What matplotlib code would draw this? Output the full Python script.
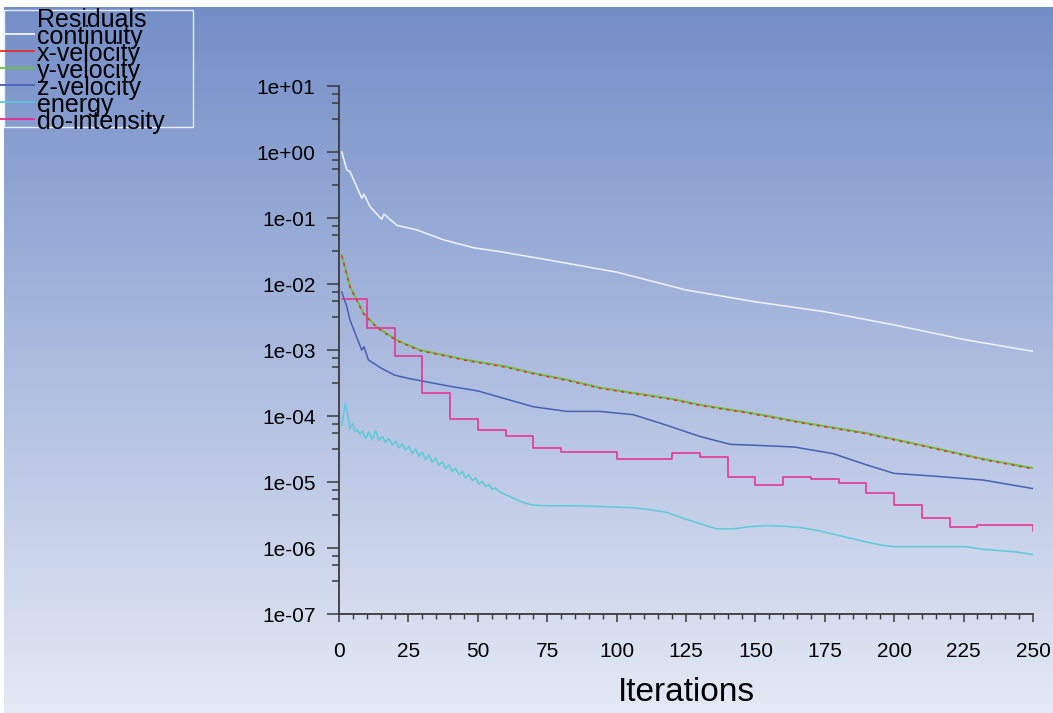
import matplotlib.pyplot as plt
from matplotlib.lines import Line2D
from matplotlib.ticker import LogLocator, NullFormatter
import numpy as np

plt.rcParams['font.family'] = ['Liberation Sans', 'DejaVu Sans']

# residual histories, stored as log10 exponents
cont_it = [1, 2.8, 4, 5.8, 8.2, 9, 11.2, 15.4, 16.2, 20.8, 28, 37.6, 48.4, 58, 76,
           100, 125, 150, 175, 200, 225, 250]
cont_exp = [0.0, -0.27, -0.30, -0.47, -0.70, -0.64, -0.83, -1.02, -0.94, -1.11, -1.18,
            -1.33, -1.45, -1.51, -1.64, -1.82, -2.09, -2.27, -2.42, -2.62, -2.84, -3.02]

yvel_it = [1, 4, 8.8, 13.6, 20.8, 29.2, 46, 60, 70, 82, 94, 106, 120, 130, 148, 166,
           190, 214, 232, 250]
yvel_exp = [-1.56, -2.04, -2.44, -2.65, -2.85, -3.0, -3.15, -3.25, -3.35, -3.45, -3.57,
            -3.65, -3.74, -3.83, -3.95, -4.09, -4.26, -4.48, -4.65, -4.79]
xvel_exp = [-1.57, -2.05, -2.45, -2.66, -2.86, -3.01, -3.16, -3.26, -3.36, -3.46, -3.58,
            -3.66, -3.75, -3.84, -3.96, -4.10, -4.27, -4.49, -4.66, -4.80]

zvel_it = [1, 2.8, 4, 6.3, 8.2, 9, 10.6, 15, 20, 25, 30, 40, 50, 60, 70, 82, 94, 106,
           118, 130, 141, 148, 164, 178, 190, 200, 214, 232, 250]
zvel_exp = [-2.12, -2.34, -2.55, -2.80, -3.0, -2.95, -3.15, -3.27, -3.38, -3.43, -3.47,
            -3.55, -3.62, -3.74, -3.86, -3.93, -3.93, -3.98, -4.14, -4.31, -4.43, -4.44,
            -4.47, -4.57, -4.74, -4.87, -4.91, -4.97, -5.10]

energy_it = [1, 2.3, 3.1, 3.9, 4.9, 5.8, 6.6, 7.6, 8.4, 9.6, 10.8, 12.0, 13.2, 14.4,
             15.6, 16.8, 18.0, 19.2, 20.4, 21.6, 22.8, 24.0, 25.2, 26.4, 27.6, 28.8,
             30.0, 31.2, 32.4, 33.6, 34.8, 36.0, 37.2, 38.4, 39.6, 40.8, 42.0, 43.2,
             44.4, 45.6, 46.8, 48.0, 49.2, 50.4, 51.6, 52.8, 54.0, 55.2, 56.4, 57.6,
             60, 64, 67, 70, 75, 82, 94, 106, 112, 118, 124, 130, 136, 142, 147, 154,
             160, 166, 172, 178, 184, 190, 196, 200, 214, 226, 232, 244, 250]
energy_exp = [-4.14, -3.81, -3.98, -4.19, -4.11, -4.24, -4.21, -4.28, -4.23, -4.34,
              -4.24, -4.36, -4.22, -4.37, -4.31, -4.40, -4.34, -4.44, -4.38, -4.48,
              -4.42, -4.52, -4.46, -4.57, -4.50, -4.61, -4.55, -4.66, -4.59, -4.70,
              -4.64, -4.75, -4.69, -4.80, -4.74, -4.84, -4.79, -4.89, -4.84, -4.94,
              -4.89, -4.98, -4.94, -5.03, -4.99, -5.07, -5.04, -5.11, -5.09, -5.14,
              -5.19, -5.27, -5.32, -5.35, -5.36, -5.36, -5.37, -5.39, -5.42, -5.46,
              -5.55, -5.63, -5.71, -5.71, -5.68, -5.66, -5.67, -5.69, -5.73, -5.79,
              -5.85, -5.91, -5.96, -5.98, -5.98, -5.98, -6.02, -6.06, -6.10]

# do-intensity is only updated every 10 iterations -> step levels
do_it = [1, 10, 20, 30, 40, 50, 60, 70, 80, 100, 120, 130, 140, 150, 160, 170, 180,
         190, 200, 210, 220, 230, 249, 250]
do_exp = [-2.23, -2.66, -3.09, -3.65, -4.04, -4.21, -4.30, -4.49, -4.54, -4.65, -4.56,
          -4.62, -4.93, -5.04, -4.93, -4.95, -5.02, -5.16, -5.35, -5.54, -5.68, -5.65,
          -5.65, -5.74]

names = ["continuity", "x-velocity", "y-velocity", "z-velocity", "energy", "do-intensity"]
colors = ["#f2f4fa", "#e0302c", "#6cc040", "#4462b4", "#5ccad8", "#ea2a8e"]

W, H = 1053, 713
fig = plt.figure(figsize=(W / 100, H / 100), dpi=100)
fig.patch.set_facecolor("white")

# gradient background
bg = fig.add_axes([4 / W, 0, 1 - 4 / W, 706 / H])
top = np.array([116, 142, 200]) / 255
bot = np.array([228, 233, 245]) / 255
t = np.linspace(0, 1, 256)[:, None]
grad = top[None, :] * (1 - t) + bot[None, :] * t
bg.imshow(grad[:, None, :], aspect="auto", extent=[0, 1, 0, 1])
bg.set_axis_off()

ax = fig.add_axes([339 / W, 1 - 614 / H, (1033 - 339) / W, (614 - 86) / H])
ax.set_facecolor("none")

lw = 1.1
ax.plot(cont_it, 10.0 ** np.array(cont_exp), color=colors[0], lw=lw)
ax.plot(yvel_it, 10.0 ** np.array(yvel_exp), color=colors[2], lw=lw + 0.3)
ax.plot(yvel_it, 10.0 ** np.array(xvel_exp), color=colors[1], lw=lw,
        linestyle=(0, (2, 3)))
ax.plot(zvel_it, 10.0 ** np.array(zvel_exp), color=colors[3], lw=lw)
ax.plot(energy_it, 10.0 ** np.array(energy_exp), color=colors[4], lw=lw)
ax.plot(do_it, 10.0 ** np.array(do_exp), color=colors[5], lw=lw, drawstyle="steps-post")

ax.set_yscale("log")
ax.set_ylim(1e-7, 1e1)
ax.set_xlim(0, 250)
ax.set_xticks(np.arange(0, 251, 25))
ax.set_xticks(np.arange(0, 251, 5), minor=True)
ax.set_yticks([10.0 ** k for k in range(-7, 2)])
ax.set_yticklabels(["1e%+03d" % k for k in range(-7, 2)])
ax.yaxis.set_minor_locator(LogLocator(base=10, subs=[3.16, 5.62, 7.5]))
ax.yaxis.set_minor_formatter(NullFormatter())

for s in ["top", "right"]:
    ax.spines[s].set_visible(False)
for s in ["left", "bottom"]:
    ax.spines[s].set_color("#3a3a3a")
    ax.spines[s].set_linewidth(1.3)

ax.tick_params(axis="y", which="major", length=9, width=1.1, color="#3a3a3a", pad=8,
               labelsize=15)
ax.tick_params(axis="y", which="minor", length=5, width=1.1, color="#3a3a3a")
ax.tick_params(axis="x", which="major", length=6, width=1.1, color="#3a3a3a", pad=14,
               labelsize=15)
ax.tick_params(axis="x", which="minor", length=3.5, width=1.0, color="#3a3a3a")
ax.set_xlabel("Iterations", fontsize=24, labelpad=12)

# legend block, drawn in figure pixels
box = plt.Rectangle((4 / W, 1 - 127 / H), 189 / W, 117 / H, transform=fig.transFigure,
                    fill=False, edgecolor="#e8ecf6", lw=1.0)
fig.patches.append(box)
fig.text(37 / W, 1 - 27 / H, "Residuals", fontsize=18, va="baseline", ha="left")
for i, (nm, c) in enumerate(zip(names, colors)):
    yl = 34.3 + 16.9 * i
    fig.lines.append(Line2D([0, 34 / W], [1 - yl / H] * 2, transform=fig.transFigure,
                            color=c, lw=1.3))
    fig.text(37 / W, 1 - (yl + 10) / H, nm, fontsize=18, va="baseline", ha="left")

fig.savefig("out.png", dpi=100)
